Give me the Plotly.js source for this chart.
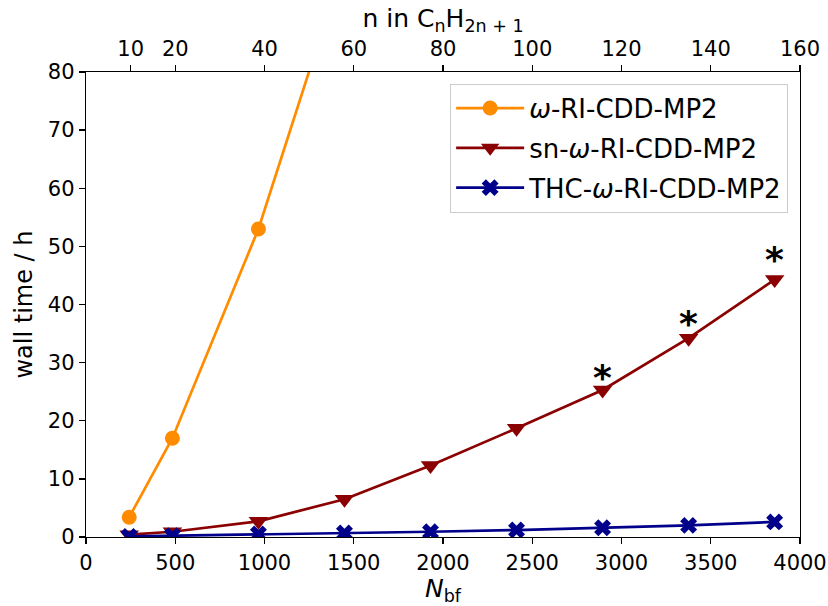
<!DOCTYPE html>
<html>
<head>
<meta charset="utf-8">
<script src="https://cdn.plot.ly/plotly-3.0.1.min.js"></script>
<style>html,body{margin:0;padding:0;background:#fff;}#chart{width:828px;height:606px;}</style>
</head>
<body>
<div id="chart"></div>
<script>
// N_bf values of the systems
const nbf = [242, 484, 966, 1448, 1930, 2412, 2894, 3376, 3858];
const nbfOmega = [242, 484, 966, 1448];
// wall times in hours
const omegaRI = [3.4, 17.0, 53.0, 99.0];
const snOmegaRI = [0.4, 0.9, 2.7, 6.5, 12.3, 18.7, 25.3, 34.2, 44.3];
const thcOmegaRI = [0.1, 0.2, 0.5, 0.7, 0.9, 1.2, 1.6, 2.0, 2.6];
// asterisk marks (position of the * labels)
const starX = [2894, 3376, 3858];
const starY = [27.5, 36.8, 47.7];
// top axis ticks (n in CnH2n+1)
const topTicks = [10, 20, 40, 60, 80, 100, 120, 140, 160];
const bottomTicks = [0, 500, 1000, 1500, 2000, 2500, 3000, 3500, 4000];
const yTicks = [0, 10, 20, 30, 40, 50, 60, 70, 80];

const font = 'DejaVu Sans, sans-serif';

const traces = [
  {x: nbfOmega, y: omegaRI, name: '<i>ω</i>-RI-CDD-MP2', mode: 'lines+markers', legendgroup: 'a',
   line: {color: '#ff8c00', width: 2.7}, marker: {symbol: 'circle', size: 15, color: '#ff8c00'}},
  {x: nbf, y: snOmegaRI, name: 'sn-<i>ω</i>-RI-CDD-MP2', mode: 'lines+markers', legendgroup: 'b',
   line: {color: '#8b0000', width: 2.7}, marker: {symbol: 'triangle-down', size: 17, color: '#8b0000'}},
  {x: nbf, y: thcOmegaRI, name: 'THC-<i>ω</i>-RI-CDD-MP2', mode: 'lines+markers', legendgroup: 'c',
   line: {color: '#00008b', width: 2.7}, marker: {symbol: 'x', size: 15, color: '#00008b'}},
  {x: [], y: [], xaxis: 'x2', showlegend: false, mode: 'markers'}
];

const annotations = starX.map((x, i) => ({
  x: x, y: starY[i], xref: 'x', yref: 'y', text: '<b>*</b>', showarrow: false,
  font: {family: font, size: 36, color: '#000'}
}));

const axisCommon = {
  showline: true, linecolor: '#000', linewidth: 1.3, ticks: 'outside', ticklen: 6, tickwidth: 1.3,
  tickcolor: '#000', showgrid: false, zeroline: false,
  tickfont: {family: font, size: 21, color: '#000'}
};

const layout = {
  width: 828, height: 606,
  margin: {l: 86, r: 28, t: 72, b: 69},
  paper_bgcolor: '#fff', plot_bgcolor: '#fff',
  font: {family: font, color: '#000'},
  showlegend: true,
  legend: {x: 0.51, y: 0.975, xanchor: 'left', yanchor: 'top', bordercolor: '#cccccc', borderwidth: 1,
           bgcolor: 'rgba(255,255,255,0.8)', font: {family: font, size: 26, color: '#000'},
           traceorder: 'grouped', tracegroupgap: 3, itemwidth: 68},
  xaxis: Object.assign({}, axisCommon, {range: [0, 4000], tickvals: bottomTicks,
    title: {text: '<i>N</i><sub>bf</sub>', font: {family: font, size: 25}, standoff: 2}}),
  xaxis2: Object.assign({}, axisCommon, {range: [0, 160], tickvals: topTicks, overlaying: 'x', side: 'top',
    title: {text: 'n in C<sub>n</sub>H<sub>2n + 1</sub>', font: {family: font, size: 25}, standoff: 2}}),
  yaxis: Object.assign({}, axisCommon, {range: [0, 80], tickvals: yTicks, mirror: true,
    title: {text: 'wall time / h', font: {family: font, size: 24}, standoff: 8}}),
  annotations: annotations
};

Plotly.newPlot('chart', traces, layout, {staticPlot: true, displayModeBar: false});
</script>
</body>
</html>
